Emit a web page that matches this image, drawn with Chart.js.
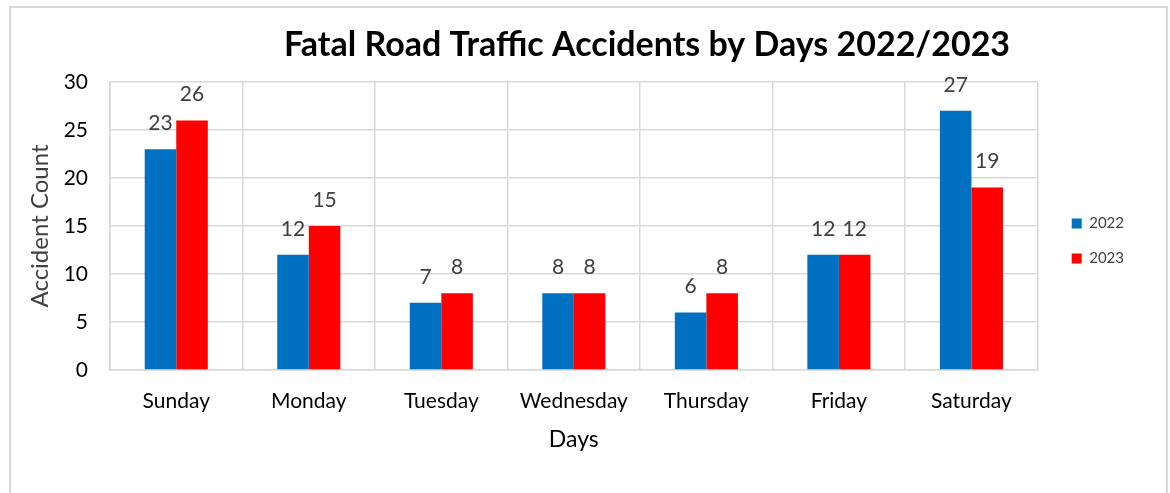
<!DOCTYPE html>
<html><head><meta charset="utf-8">
<script src="https://cdn.jsdelivr.net/npm/chart.js@4"></script>
<style>
html,body{margin:0;padding:0;background:#fff;overflow:hidden}
#frame{position:absolute;left:9px;top:6px;width:1159px;height:600px;border:2px solid #d9d9d9;box-sizing:border-box}
#c{position:absolute;left:0;top:0}
</style></head>
<body>
<div id="frame"></div>
<canvas id="c" width="1170" height="493"></canvas>
<script>
const days = ['Sunday','Monday','Tuesday','Wednesday','Thursday','Friday','Saturday'];
const values2022 = [23,12,7,8,6,12,27];
const values2023 = [26,15,8,8,8,12,19];
const seriesNames = ['2022','2023'];
const yMin = 0, yMax = 30, yStep = 5;
const chartTitle = 'Fatal Road Traffic Accidents by Days 2022/2023';
const FONT = 'Lato, "Open Sans", sans-serif';

const titlePlugin = {
  id: 'customTitle',
  afterDraw(chart) {
    const ctx = chart.ctx;
    ctx.save();
    ctx.font = 'bold 34px ' + FONT;
    ctx.fillStyle = '#000';
    ctx.textAlign = 'center';
    ctx.textBaseline = 'middle';
    ctx.fillText(chartTitle, 647, 45);
    ctx.restore();
  }
};
const labelPlugin = {
  id: 'barLabels',
  afterDatasetsDraw(chart) {
    const ctx = chart.ctx;
    ctx.save();
    ctx.font = '21px ' + FONT;
    ctx.fillStyle = '#404040';
    ctx.textAlign = 'center';
    ctx.textBaseline = 'middle';
    chart.data.datasets.forEach((ds, i) => {
      chart.getDatasetMeta(i).data.forEach((el, j) => {
        ctx.fillText(String(ds.data[j]), el.x, el.y - 26);
      });
    });
    ctx.restore();
  }
};

new Chart(document.getElementById('c'), {
  type: 'bar',
  data: {
    labels: days,
    datasets: [
      {label: seriesNames[0], data: values2022, backgroundColor: '#0070C0'},
      {label: seriesNames[1], data: values2023, backgroundColor: '#FF0000'}
    ]
  },
  options: {
    responsive: false,
    animation: false,
    devicePixelRatio: 1,
    categoryPercentage: 0.476,
    barPercentage: 1,
    layout: {padding: {top: 82, left: 0, right: 36, bottom: 0}},
    plugins: {
      title: {display: false},
      tooltip: {enabled: false},
      legend: {
        position: 'right',
        align: 'start',
        labels: {boxWidth: 10, boxHeight: 10, padding: 20, color: '#404040', font: {family: FONT, size: 15}},
        title: {display: true, text: ' ', font: {family: FONT, size: 15}, padding: {top: 0, bottom: 96}}
      }
    },
    scales: {
      x: {
        grid: {color: '#d9d9d9', lineWidth: 1.5, drawTicks: false, offset: true},
        border: {color: '#d9d9d9', width: 1.5},
        ticks: {color: '#000', font: {family: FONT, size: 21}, padding: 19},
        title: {display: true, text: 'Days', color: '#000', font: {family: FONT, size: 23}, padding: {top: 0, bottom: 40}},
        afterFit(s) { s.height = 123; }
      },
      y: {
        min: yMin, max: yMax,
        grid: {color: '#d9d9d9', lineWidth: 1.5, drawTicks: false},
        border: {color: '#d9d9d9', width: 1.5},
        ticks: {stepSize: yStep, color: '#000', font: {family: FONT, size: 21}, padding: 22},
        title: {display: true, text: 'Accident Count', color: '#404040', font: {family: FONT, size: 24}, padding: {top: 26, bottom: 0}},
        afterFit(s) { s.width = 110; }
      },
      spacer: {
        type: 'linear', position: 'right', display: true,
        grid: {display: false}, ticks: {display: false}, border: {display: false},
        afterFit(s) { s.width = 14; }
      }
    }
  },
  plugins: [titlePlugin, labelPlugin]
});
</script>
</body></html>
